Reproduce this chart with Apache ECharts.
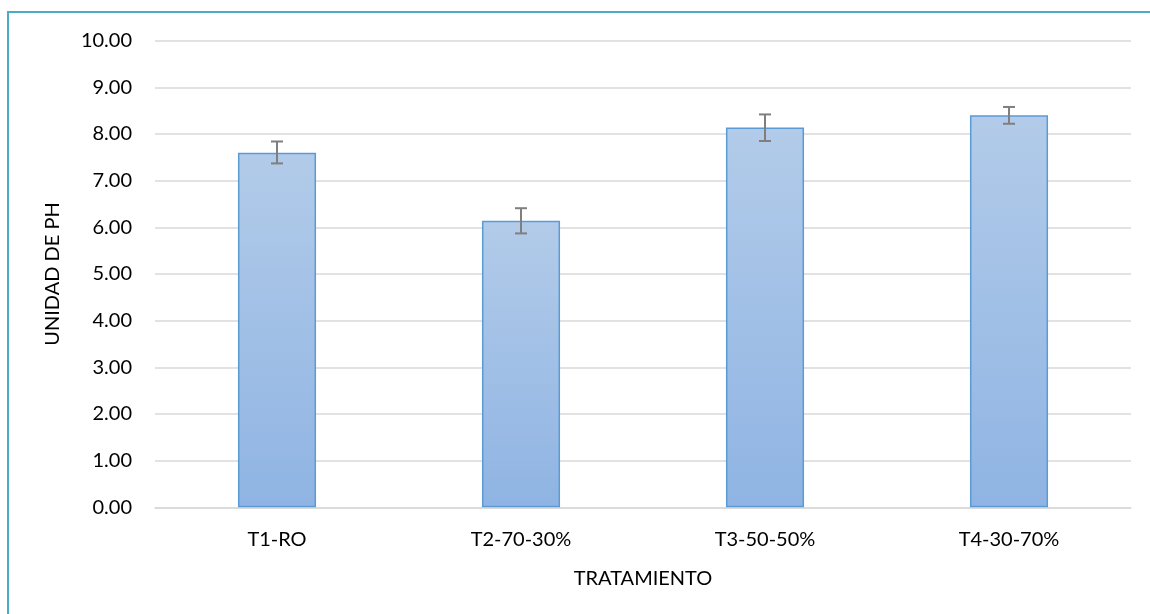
<!DOCTYPE html>
<html><head><meta charset="utf-8">
<script src="https://cdn.jsdelivr.net/npm/echarts@6/dist/echarts.min.js"></script>
<style>html,body{margin:0;padding:0;background:#fff}#c{width:1150px;height:614px}</style>
</head><body><div id="c"></div>
<script>
const categories = ['T1-RO', 'T2-70-30%', 'T3-50-50%', 'T4-30-70%'];
const values = [7.60, 6.14, 8.14, 8.40];
const errLow = [7.37, 5.87, 7.85, 8.22];
const errHigh = [7.84, 6.41, 8.42, 8.58];
const yTicks = ['0.00','1.00','2.00','3.00','4.00','5.00','6.00','7.00','8.00','9.00','10.00'];

const chart = echarts.init(document.getElementById('c'), null, {renderer: 'canvas'});
const font = 'Lato, "Open Sans", sans-serif';
chart.setOption({
  animation: false,
  backgroundColor: '#fff',
  graphic: [{
    type: 'rect', shape: {x: 8, y: 12, width: 1160, height: 620},
    style: {fill: 'none', stroke: '#4bacc6', lineWidth: 2}, z: 100
  }],
  grid: {left: 155, right: 19, top: 40.7, bottom: 106.7},
  xAxis: {
    type: 'category', data: categories,
    name: 'TRATAMIENTO', nameLocation: 'middle', nameGap: 61,
    nameTextStyle: {fontFamily: font, fontSize: 20, color: '#000'},
    axisLine: {show: true, lineStyle: {color: '#d9d9d9', width: 1.5}},
    axisTick: {show: false},
    axisLabel: {fontFamily: font, fontSize: 20, color: '#000', margin: 22}
  },
  yAxis: {
    type: 'value', min: 0, max: 10, interval: 1,
    name: 'UNIDAD DE PH', nameLocation: 'middle', nameGap: 92, nameRotate: 90,
    nameTextStyle: {fontFamily: font, fontSize: 20, color: '#000'},
    axisLine: {show: false}, axisTick: {show: false},
    splitLine: {lineStyle: {color: '#d9d9d9', width: 1.5}},
    axisLabel: {fontFamily: font, fontSize: 20, color: '#000', margin: 23,
      formatter: (v) => yTicks[Math.round(v)]}
  },
  series: [{
    type: 'bar', data: values, barWidth: '32%',
    itemStyle: {
      color: new echarts.graphic.LinearGradient(0, 0, 0, 1, [
        {offset: 0, color: '#b2cbe9'}, {offset: 1, color: '#8fb4e3'}
      ]),
      borderColor: '#5b9bd5', borderWidth: 1.5
    }
  }, {
    type: 'custom',
    data: categories.map((c, i) => [i, errLow[i], errHigh[i]]),
    renderItem: function (params, api) {
      const lo = api.coord([api.value(0), api.value(1)]);
      const hi = api.coord([api.value(0), api.value(2)]);
      const hw = 6;
      const st = {stroke: '#7f7f7f', lineWidth: 2, fill: 'none'};
      return {type: 'group', children: [
        {type: 'line', shape: {x1: lo[0], y1: lo[1], x2: hi[0], y2: hi[1]}, style: st},
        {type: 'line', shape: {x1: lo[0]-hw, y1: lo[1], x2: lo[0]+hw, y2: lo[1]}, style: st},
        {type: 'line', shape: {x1: hi[0]-hw, y1: hi[1], x2: hi[0]+hw, y2: hi[1]}, style: st}
      ]};
    },
    z: 10
  }]
});
</script></body></html>
